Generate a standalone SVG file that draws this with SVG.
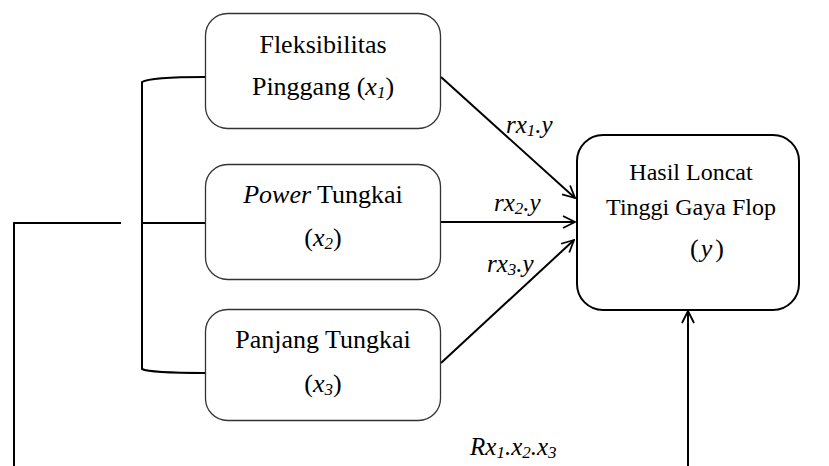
<svg xmlns="http://www.w3.org/2000/svg" width="829" height="466" viewBox="0 0 829 466">
<defs>
<marker id="ah" viewBox="0 0 14 14" refX="13" refY="7" markerWidth="14" markerHeight="14" markerUnits="userSpaceOnUse" orient="auto">
<path d="M1,1 L13,7 L1,13" fill="none" stroke="#000" stroke-width="1.8"/>
</marker>
<style>
.box{fill:#fff;stroke:#333;stroke-width:1.3}
.bigbox{fill:#fff;stroke:#000;stroke-width:2}
.t{font-size:26px;fill:#000;text-anchor:middle}
.t2{font-size:24px;fill:#000;text-anchor:middle}
.v{font-style:italic}
.sub{font-size:17px}
.lab{font-size:25px;font-style:italic;fill:#000}
.ln{fill:none;stroke:#000;stroke-width:2}
</style>
</defs>
<rect width="829" height="466" fill="#fff"/>
<g id="connectors" font-family="Liberation Serif, serif">
<path class="ln" d="M14,466 L14,223 L121,223"/>
<path class="ln" d="M205,77 Q150,77 142,82 L142,369 Q150,373 205,373"/>
<path class="ln" d="M142,223 L205,223"/>
<path class="ln" d="M441,77 L575,198" marker-end="url(#ah)"/>
<path class="ln" d="M441,222 L575,222" marker-end="url(#ah)"/>
<path class="ln" d="M441,363 L574,240" marker-end="url(#ah)"/>
<path class="ln" d="M688,466 L688,311" marker-end="url(#ah)"/>
<text class="lab" x="506" y="133">rx<tspan class="sub" dy="3">1</tspan><tspan dy="-3">.y</tspan></text>
<text class="lab" x="494" y="211">rx<tspan class="sub" dy="3">2</tspan><tspan dy="-3">.y</tspan></text>
<text class="lab" x="487" y="272">rx<tspan class="sub" dy="3">3</tspan><tspan dy="-3">.y</tspan></text>
<text class="lab" x="470" y="455">Rx<tspan class="sub" dy="3">1</tspan><tspan dy="-3">.x</tspan><tspan class="sub" dy="3">2</tspan><tspan dy="-3">.x</tspan><tspan class="sub" dy="3">3</tspan></text>
</g>
<g id="node-x1" font-family="Liberation Serif, serif">
<rect class="box" x="205.5" y="13.5" width="235" height="115" rx="22"/>
<text class="t" x="323" y="53">Fleksibilitas</text>
<text class="t" x="323" y="95">Pinggang (<tspan class="v">x</tspan><tspan class="v sub" dy="3">1</tspan><tspan dy="-3">)</tspan></text>
</g>
<g id="node-x2" font-family="Liberation Serif, serif">
<rect class="box" x="205.5" y="164.5" width="235" height="115" rx="22"/>
<text class="t" x="323" y="203"><tspan class="v">Power</tspan> Tungkai</text>
<text class="t" x="323" y="246">(<tspan class="v">x</tspan><tspan class="v sub" dy="3">2</tspan><tspan dy="-3">)</tspan></text>
</g>
<g id="node-x3" font-family="Liberation Serif, serif">
<rect class="box" x="205.5" y="309.5" width="235" height="111" rx="22"/>
<text class="t" x="323" y="348">Panjang Tungkai</text>
<text class="t" x="323" y="392">(<tspan class="v">x</tspan><tspan class="v sub" dy="3">3</tspan><tspan dy="-3">)</tspan></text>
</g>
<g id="node-y" font-family="Liberation Serif, serif">
<rect class="bigbox" x="577" y="135" width="222" height="175" rx="26"/>
<text class="t2" x="691" y="180">Hasil Loncat</text>
<text class="t2" x="691" y="215">Tinggi Gaya Flop</text>
<text class="t" x="707" y="257">(<tspan class="v" dx="2">y</tspan><tspan dx="3">)</tspan></text>
</g>
</svg>
